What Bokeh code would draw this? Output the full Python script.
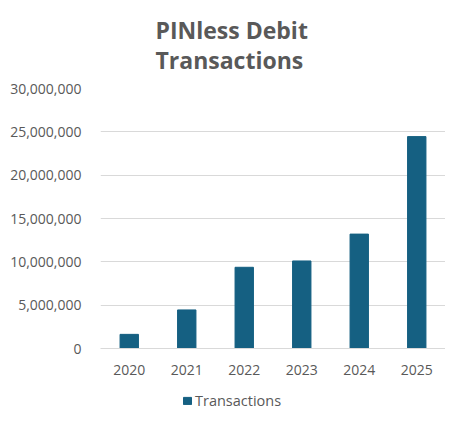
from bokeh.plotting import figure
from bokeh.layouts import column
from bokeh.models import Legend, LegendItem, Title, NumeralTickFormatter, ColumnDataSource
from bokeh.embed import file_html
from bokeh.resources import INLINE

years = ["2020", "2021", "2022", "2023", "2024", "2025"]
transactions = [1_630_000, 4_450_000, 9_370_000, 10_100_000, 13_200_000, 24_450_000]
y_ticks = [0, 5_000_000, 10_000_000, 15_000_000, 20_000_000, 25_000_000, 30_000_000]
series_name = "Transactions"
title_text = "PINless Debit\nTransactions"

FONT = "Open Sans"
GREY = "#595959"
BAR = "#156082"

src = ColumnDataSource(dict(year=years, value=transactions))

p = figure(x_range=years, y_range=(0, 30_000_000), width=445, height=388,
           output_backend="svg", toolbar_location=None,
           min_border_left=100, min_border_right=0, min_border_top=88, min_border_bottom=40)
p.title = None
p.outline_line_color = None
p.background_fill_color = "white"
p.border_fill_color = "white"

r = p.vbar(x="year", top="value", width=0.32, source=src, color=BAR)

t = Title(text=title_text, align="left", offset=55, standoff=21, vertical_align="top",
          text_font=FONT, text_font_size="23px", text_font_style="bold",
          text_color=GREY, text_line_height=0.95)
p.add_layout(t, "above")

p.yaxis.ticker = y_ticks
p.yaxis.formatter = NumeralTickFormatter(format="0,0")
p.yaxis.axis_line_color = None
p.yaxis.major_tick_line_color = None
p.yaxis.minor_tick_line_color = None
p.yaxis.major_label_standoff = 13
p.yaxis.major_label_text_font = FONT
p.yaxis.major_label_text_font_size = "14px"
p.yaxis.major_label_text_color = GREY

p.xaxis.axis_line_color = "#d9d9d9"
p.xaxis.major_tick_line_color = None
p.xaxis.minor_tick_line_color = None
p.xaxis.major_label_standoff = 10
p.xaxis.major_label_text_font = FONT
p.xaxis.major_label_text_font_size = "14px"
p.xaxis.major_label_text_color = GREY

p.xgrid.grid_line_color = None
p.ygrid.grid_line_color = "#d9d9d9"
p.ygrid.grid_line_width = 1

# legend strip below the chart (its bars lie far outside its visible range; only the key shows)
lf = figure(x_range=years, y_range=(50_000_000, 60_000_000), width=445, height=23,
            output_backend="svg", toolbar_location=None,
            min_border=0, x_axis_location=None, y_axis_location=None)
lf.outline_line_color = None
lf.xgrid.visible = False
lf.ygrid.visible = False
lr = lf.vbar(x="year", top="value", width=0.32, source=src, color=BAR)
legend = Legend(items=[LegendItem(label=series_name, renderers=[lr])],
                location=(82, 1), orientation="horizontal",
                glyph_width=10, glyph_height=9, label_standoff=3,
                padding=0, margin=0, spacing=0,
                label_text_font=FONT, label_text_font_size="14.5px",
                label_text_color=GREY, border_line_color=None,
                background_fill_alpha=0)
lf.add_layout(legend, "center")

layout = column(p, lf, spacing=0)
open("out.html", "w").write(file_html(layout, INLINE))
